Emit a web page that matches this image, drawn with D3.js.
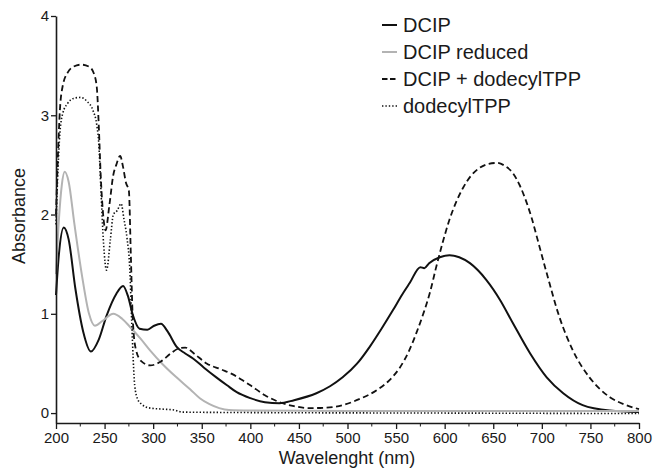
<!DOCTYPE html>
<html>
<head>
<meta charset="utf-8">
<script src="https://cdn.jsdelivr.net/npm/d3@7"></script>
<style>
  body { margin: 0; background: #fff; }
  svg text { font-family: "Liberation Sans", Arial, sans-serif; fill: #1a1a1a; }
</style>
</head>
<body>
<div id="chart"></div>
<script>
// spectra: [wavelength nm, absorbance]
const dcip = [
  [200, 1.19], [203, 1.6], [208, 1.87], [213, 1.75], [220, 1.25], [228, 0.82], [236, 0.62],
  [244, 0.74], [252, 0.98], [262, 1.2], [269, 1.28], [274, 1.18], [279, 0.99], [286, 0.85],
  [294, 0.84], [301, 0.88], [308, 0.9], [315, 0.82], [324, 0.67], [333, 0.6], [341, 0.55],
  [352, 0.46], [365, 0.36], [376, 0.28], [386, 0.21], [400, 0.15], [415, 0.11], [430, 0.1],
  [445, 0.13], [468, 0.2], [482, 0.27], [495, 0.36], [510, 0.5], [523, 0.67], [535, 0.85],
  [547, 1.04], [556, 1.19], [564, 1.31], [575, 1.47], [579, 1.46], [584, 1.51], [595, 1.57],
  [605, 1.59], [615, 1.57], [626, 1.51], [643, 1.34], [657, 1.14], [670, 0.91], [688, 0.6],
  [705, 0.36], [722, 0.2], [742, 0.08], [770, 0.025], [800, 0.01]
];
const dcipReduced = [
  [200, 1.4], [203, 1.95], [206, 2.3], [209, 2.43], [213, 2.33], [219, 1.9], [227, 1.37],
  [234, 1.0], [240, 0.88], [248, 0.93], [259, 1.0], [268, 0.95], [276, 0.87], [287, 0.75],
  [297, 0.63], [310, 0.49], [324, 0.36], [338, 0.24], [348, 0.15], [358, 0.09], [368, 0.05],
  [378, 0.03], [400, 0.025], [500, 0.02], [650, 0.02], [800, 0.02]
];
const dcipTpp = [
  [200, 2.0], [202, 2.6], [204, 3.05], [207, 3.3], [212, 3.43], [218, 3.49], [226, 3.51],
  [234, 3.49], [239, 3.42], [242, 3.28], [244, 2.9], [246, 2.4], [249, 1.95], [251, 1.84],
  [255, 2.1], [259, 2.4], [262, 2.5], [266, 2.59], [269, 2.48], [272, 2.32], [275, 2.24],
  [277, 1.6], [279, 0.95], [282, 0.65], [288, 0.52], [297, 0.48], [308, 0.52], [318, 0.6],
  [326, 0.65], [333, 0.66], [342, 0.6], [355, 0.5], [370, 0.44], [382, 0.39], [392, 0.33],
  [400, 0.28], [415, 0.18], [430, 0.11], [445, 0.07], [461, 0.05], [478, 0.055], [495, 0.08],
  [512, 0.14], [530, 0.23], [543, 0.33], [554, 0.46], [563, 0.62], [571, 0.81], [578, 1.0],
  [585, 1.22], [591, 1.46], [598, 1.72], [605, 1.95], [612, 2.13], [619, 2.27], [627, 2.39],
  [636, 2.47], [645, 2.51], [654, 2.52], [662, 2.49], [670, 2.42], [677, 2.3], [684, 2.13],
  [690, 1.95], [695, 1.77], [705, 1.41], [718, 0.97], [732, 0.63], [749, 0.36], [760, 0.24],
  [770, 0.16], [784, 0.09], [800, 0.04]
];
const dodecylTpp = [
  [200, 1.9], [202, 2.45], [204, 2.82], [207, 3.02], [212, 3.12], [218, 3.17], [225, 3.18],
  [232, 3.14], [238, 3.05], [242, 2.9], [244, 2.72], [246, 2.3], [249, 1.7], [252, 1.44],
  [256, 1.75], [259, 2.0], [263, 2.04], [267, 2.11], [270, 1.95], [273, 1.77], [276, 1.44],
  [278, 0.9], [281, 0.28], [284, 0.14], [288, 0.09], [297, 0.05], [310, 0.04], [322, 0.03],
  [330, 0.01], [400, 0.005], [600, 0.0], [800, -0.005]
];

const series = [
  { name: 'DCIP', values: dcip, color: '#111', dash: null, width: 2, key: null },
  { name: 'DCIP reduced', values: dcipReduced, color: '#b3b3b3', dash: null, width: 2, key: null },
  { name: 'DCIP + dodecylTPP', values: dcipTpp, color: '#111', dash: '6,3.5', width: 1.8, key: '5.5,2.5' },
  { name: 'dodecylTPP', values: dodecylTpp, color: '#111', dash: '1.4,2', width: 1.6, key: '1.4,2' }
];

const xTicks = d3.range(200, 801, 50);
const xMinor = d3.range(225, 800, 50);
const yTicks = [0, 1, 2, 3, 4];

const width = 654, height = 468;
const x = d3.scaleLinear().domain([200, 800]).range([56, 639]);
const y = d3.scaleLinear().domain([-0.1, 4]).range([423, 16]);

const svg = d3.select('#chart').append('svg')
  .attr('width', width).attr('height', height);

const line = d3.line()
  .x(d => x(d[0]))
  .y(d => y(d[1]))
  .curve(d3.curveMonotoneX);

// curves
svg.append('g')
  .selectAll('path')
  .data(series)
  .join('path')
  .attr('fill', 'none')
  .attr('stroke', d => d.color)
  .attr('stroke-width', d => d.width)
  .attr('stroke-dasharray', d => d.dash)
  .attr('stroke-linejoin', 'round')
  .attr('d', d => line(d.values));

// x axis
const xAxis = svg.append('g')
  .attr('transform', `translate(0,${y(-0.1)})`)
  .call(d3.axisBottom(x).tickValues(xTicks).tickSize(6).tickSizeOuter(0).tickPadding(3));
xAxis.append('g')
  .selectAll('line')
  .data(xMinor)
  .join('line')
  .attr('x1', d => x(d)).attr('x2', d => x(d))
  .attr('y1', 0).attr('y2', 3.5)
  .attr('stroke', '#1a1a1a');

// y axis
const yAxis = svg.append('g')
  .attr('transform', `translate(${x(200)},0)`)
  .call(d3.axisLeft(y).tickValues(yTicks).tickFormat(d3.format('d')).tickSize(5).tickSizeOuter(0).tickPadding(2));

[xAxis, yAxis].forEach(g => {
  g.select('.domain').attr('stroke', '#1a1a1a').attr('stroke-width', 1.6);
  g.selectAll('.tick line').attr('stroke', '#1a1a1a').attr('stroke-width', 1.3);
  g.selectAll('.tick text').style('font-size', '15px').attr('fill', '#1a1a1a');
});

// axis titles
svg.append('text')
  .attr('x', 347).attr('y', 464)
  .attr('text-anchor', 'middle')
  .style('font-size', '18px')
  .text('Wavelenght (nm)');

svg.append('text')
  .attr('transform', 'translate(25,216) rotate(-90)')
  .attr('text-anchor', 'middle')
  .style('font-size', '18px')
  .text('Absorbance');

// legend
const legend = svg.append('g').attr('transform', 'translate(382,25)');
const items = legend.selectAll('g')
  .data(series)
  .join('g')
  .attr('transform', (d, i) => `translate(0,${i * 27})`);
items.append('line')
  .attr('x1', 0).attr('x2', 15)
  .attr('stroke', d => d.color)
  .attr('stroke-width', d => d.width)
  .attr('stroke-dasharray', d => d.key);
items.append('text')
  .attr('x', 21).attr('y', 7)
  .style('font-size', '20px')
  .text(d => d.name);
</script>
</body>
</html>
